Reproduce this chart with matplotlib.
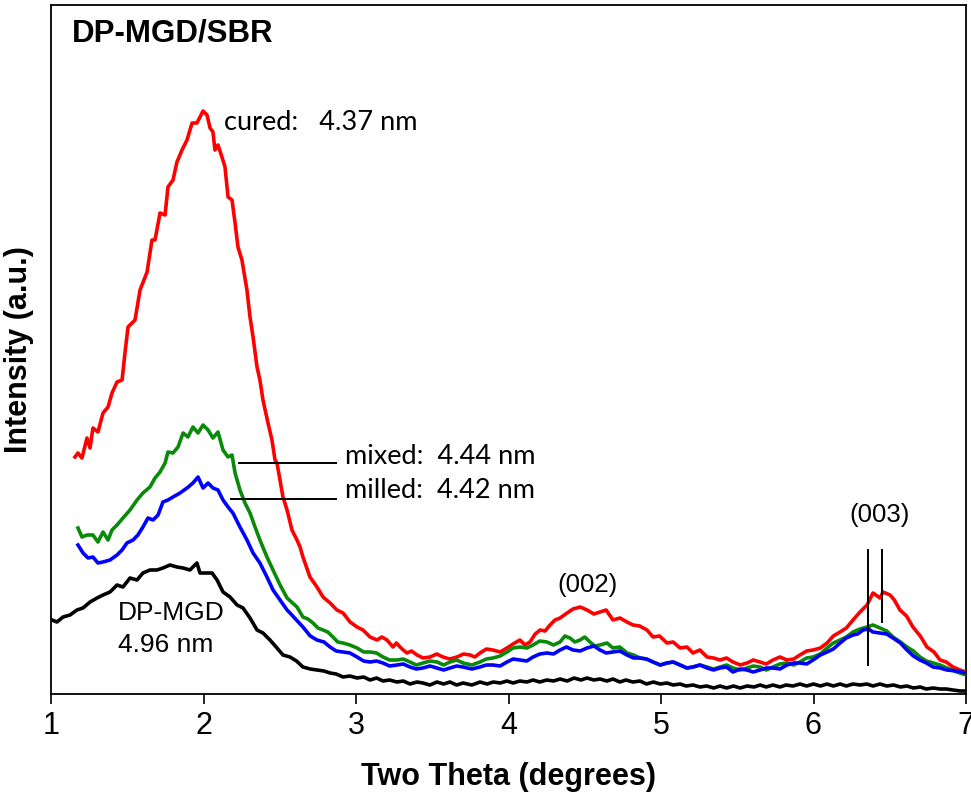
import matplotlib
matplotlib.use("Agg")
import matplotlib.pyplot as plt

# XRD patterns, intensity in arbitrary units
cured_2theta = [1.157, 1.177, 1.203, 1.236, 1.256, 1.275, 1.308, 1.341, 1.374, 1.400,
                1.433, 1.466, 1.485, 1.505, 1.551, 1.584, 1.630, 1.662, 1.682, 1.715,
                1.748, 1.767, 1.800, 1.826, 1.859, 1.892, 1.925, 1.957, 1.977, 1.997,
                2.023, 2.043, 2.062, 2.075, 2.095, 2.121, 2.141, 2.161, 2.187, 2.207,
                2.226, 2.252, 2.285, 2.305, 2.325, 2.351, 2.370, 2.390, 2.423, 2.449,
                2.469, 2.482, 2.521, 2.548, 2.580, 2.613, 2.633, 2.652, 2.698, 2.744,
                2.784, 2.830, 2.875, 2.915, 2.961, 3.007, 3.046, 3.092, 3.138, 3.203,
                3.243, 3.289, 3.334, 3.400, 3.485, 3.570, 3.662, 3.748, 3.813, 3.898,
                3.990, 4.075, 4.141, 4.207, 4.272, 4.338, 4.384, 4.423, 4.515, 4.600,
                4.685, 4.731, 4.777, 4.816, 4.908, 4.948, 5.039, 5.125, 5.210, 5.302,
                5.387, 5.472, 5.564, 5.649, 5.734, 5.826, 5.911, 5.997, 6.089, 6.174,
                6.259, 6.351, 6.390, 6.436, 6.456, 6.502, 6.567, 6.652, 6.744, 6.830,
                6.915, 7.000,
                # finer wiggles in the tail
                3.170, 3.265, 3.310, 3.365, 3.440, 3.530, 3.615, 3.705, 3.780, 3.855,
                3.945, 4.030, 4.108, 4.175, 4.240, 4.305, 4.470, 4.560, 4.640, 4.860,
                4.990, 5.080, 5.170, 5.255, 5.345, 5.430, 5.520, 5.605, 5.690, 5.780,
                5.870, 5.955, 6.045, 6.130, 6.215, 6.305, 6.530, 6.610, 6.700, 6.790,
                6.870, 6.960]
cured_int = [237, 241, 236, 256, 246, 266, 262, 281, 287, 301,
             312, 314, 341, 367, 374, 404, 422, 454, 454, 481,
             479, 507, 514, 532, 544, 554, 571, 571, 577, 583,
             579, 566, 562, 544, 549, 537, 527, 497, 494, 471,
             447, 434, 404, 377, 357, 327, 314, 294, 271, 254,
             234, 231, 197, 184, 164, 154, 147, 137, 117, 107,
             97, 91, 84, 81, 72, 67, 64, 57, 54, 54,
             47, 47, 41, 39, 37, 37, 37, 39, 41, 44,
             46, 54, 52, 64, 69, 76, 81, 85, 84, 82,
             74, 76, 72, 69, 64, 57, 51, 46, 41, 37,
             34, 32, 31, 32, 34, 34, 39, 44, 51, 62,
             74, 89, 101, 96, 102, 99, 84, 67, 47, 34,
             27, 22,
             57, 51, 44, 43, 36, 40, 35, 40, 37, 45,
             42, 50, 49, 60, 63, 74, 87, 80, 84, 68,
             58, 52, 47, 44, 36, 36, 29, 34, 30, 37,
             35, 43, 46, 58, 66, 82, 94, 78, 58, 42,
             32, 24]

mixed_2theta = [1.177, 1.203, 1.236, 1.275, 1.308, 1.341, 1.374, 1.400, 1.433, 1.472,
                1.518, 1.564, 1.603, 1.649, 1.682, 1.715, 1.748, 1.767, 1.800, 1.833,
                1.866, 1.898, 1.931, 1.964, 1.997, 2.030, 2.062, 2.095, 2.128, 2.161,
                2.187, 2.207, 2.239, 2.272, 2.305, 2.338, 2.370, 2.416, 2.456, 2.502,
                2.548, 2.613, 2.652, 2.718, 2.784, 2.849, 2.915, 3.007, 3.092, 3.177,
                3.269, 3.354, 3.439, 3.531, 3.616, 3.702, 3.813, 3.898, 3.990, 4.075,
                4.161, 4.252, 4.338, 4.403, 4.469, 4.534, 4.600, 4.646, 4.685, 4.777,
                4.862, 4.948, 5.039, 5.125, 5.210, 5.302, 5.387, 5.472, 5.564, 5.649,
                5.734, 5.826, 5.911, 5.997, 6.089, 6.174, 6.259, 6.351, 6.390, 6.436,
                6.521, 6.613, 6.698, 6.784, 6.875, 7.000,
                2.685, 2.750, 2.815, 2.880, 2.960, 3.050, 3.135, 3.220, 3.310, 3.395,
                3.485, 3.575, 3.660, 3.760, 3.855, 3.945, 4.030, 4.120, 4.205, 4.295,
                4.370, 4.435, 4.500, 4.565, 4.730, 4.820, 4.905, 4.995, 5.080, 5.170,
                5.255, 5.345, 5.430, 5.520, 5.605, 5.690, 5.780, 5.870, 5.955, 6.045,
                6.130, 6.215, 6.305, 6.480, 6.570, 6.655, 6.740, 6.830, 6.940]
mixed_int = [166, 157, 159, 159, 152, 162, 154, 164, 169, 176,
             184, 194, 201, 207, 216, 222, 231, 242, 241, 247,
             261, 257, 267, 261, 269, 264, 256, 262, 244, 237,
             239, 221, 204, 191, 181, 167, 154, 137, 124, 109,
             96, 87, 77, 71, 64, 57, 51, 46, 42, 37,
             34, 32, 31, 32, 32, 31, 32, 36, 42, 47,
             49, 52, 52, 56, 54, 52, 49, 51, 46, 41,
             36, 32, 31, 29, 27, 27, 27, 26, 26, 27,
             27, 31, 32, 37, 46, 54, 62, 67, 69, 66,
             57, 47, 37, 31, 26, 19,
             75, 66, 62, 52, 49, 42, 41, 34, 35, 29,
             33, 29, 34, 29, 35, 38, 46, 46, 53, 49,
             58, 52, 57, 48, 47, 39, 35, 29, 32, 26,
             29, 25, 29, 24, 28, 24, 30, 29, 36, 40,
             51, 57, 65, 63, 52, 43, 33, 29, 22]

milled_2theta = [1.177, 1.210, 1.243, 1.275, 1.308, 1.341, 1.387, 1.433, 1.466, 1.498,
                 1.538, 1.570, 1.603, 1.636, 1.669, 1.702, 1.734, 1.767, 1.800, 1.846,
                 1.892, 1.931, 1.964, 1.997, 2.030, 2.062, 2.095, 2.128, 2.161, 2.193,
                 2.239, 2.285, 2.325, 2.370, 2.416, 2.456, 2.502, 2.548, 2.567, 2.652,
                 2.744, 2.830, 2.915, 3.007, 3.092, 3.177, 3.269, 3.354, 3.439, 3.531,
                 3.616, 3.702, 3.813, 3.898, 3.990, 4.075, 4.161, 4.252, 4.338, 4.423,
                 4.515, 4.600, 4.685, 4.777, 4.862, 4.948, 5.039, 5.125, 5.210, 5.302,
                 5.387, 5.472, 5.564, 5.649, 5.734, 5.826, 5.911, 5.997, 6.089, 6.174,
                 6.259, 6.325, 6.390, 6.436, 6.521, 6.613, 6.698, 6.784, 6.875, 7.000,
                 2.700, 2.790, 2.870, 2.960, 3.050, 3.135, 3.220, 3.310, 3.395, 3.485,
                 3.575, 3.660, 3.760, 3.855, 3.945, 4.030, 4.120, 4.205, 4.295, 4.380,
                 4.470, 4.560, 4.640, 4.730, 4.820, 4.905, 4.995, 5.080, 5.170, 5.255,
                 5.345, 5.430, 5.520, 5.605, 5.690, 5.780, 5.870, 5.955, 6.045, 6.130,
                 6.215, 6.290, 6.360, 6.480, 6.570, 6.655, 6.740, 6.830, 6.940]
milled_int = [149, 141, 136, 137, 131, 132, 134, 139, 144, 151,
              154, 159, 167, 176, 174, 179, 192, 194, 197, 201,
              206, 211, 217, 206, 211, 206, 204, 194, 187, 181,
              167, 154, 141, 131, 117, 104, 94, 84, 81, 67,
              54, 47, 42, 37, 32, 31, 29, 27, 26, 26,
              26, 27, 27, 29, 32, 34, 37, 41, 44, 44,
              46, 44, 42, 39, 36, 32, 31, 29, 27, 26,
              26, 22, 24, 24, 26, 29, 31, 34, 42, 51,
              59, 64, 62, 61, 56, 44, 34, 27, 24, 21,
              58, 52, 43, 41, 33, 33, 28, 30, 25, 28,
              24, 28, 25, 29, 28, 35, 33, 40, 40, 47,
              43, 48, 41, 43, 36, 35, 29, 32, 26, 29,
              24, 27, 25, 22, 26, 25, 31, 30, 39, 45,
              56, 60, 65, 60, 51, 38, 31, 26, 23]

dpmgd_2theta = [1.007, 1.039, 1.079, 1.125, 1.170, 1.210, 1.256, 1.302, 1.341, 1.387,
                1.433, 1.472, 1.518, 1.564, 1.603, 1.649, 1.695, 1.734, 1.780, 1.826,
                1.866, 1.911, 1.957, 1.977, 2.023, 2.056, 2.089, 2.128, 2.174, 2.220,
                2.259, 2.305, 2.351, 2.390, 2.436, 2.482, 2.521, 2.567, 2.610, 2.652,
                2.700, 2.744, 2.790, 2.830, 2.870, 2.915, 2.960, 3.007, 3.050, 3.092,
                3.135, 3.177, 3.220, 3.269, 3.310, 3.354, 3.400, 3.439, 3.485, 3.531,
                3.575, 3.616, 3.660, 3.702, 3.760, 3.813, 3.860, 3.900, 3.945, 3.990,
                4.030, 4.075, 4.120, 4.161, 4.205, 4.250, 4.295, 4.338, 4.385, 4.430,
                4.475, 4.515, 4.560, 4.600, 4.645, 4.685, 4.730, 4.770, 4.815, 4.862,
                4.905, 4.950, 4.995, 5.039, 5.080, 5.125, 5.165, 5.210, 5.255, 5.300,
                5.345, 5.387, 5.430, 5.475, 5.520, 5.564, 5.610, 5.650, 5.690, 5.734,
                5.780, 5.820, 5.865, 5.911, 5.955, 6.000, 6.045, 6.089, 6.130, 6.175,
                6.215, 6.259, 6.305, 6.350, 6.390, 6.436, 6.480, 6.525, 6.570, 6.613,
                6.655, 6.700, 6.740, 6.784, 6.830, 6.870, 6.915, 6.961, 7.000]
dpmgd_int = [74, 72, 77, 79, 84, 86, 92, 96, 99, 102,
             109, 107, 116, 114, 121, 124, 124, 126, 129, 127,
             126, 124, 131, 121, 121, 121, 114, 102, 97, 89,
             86, 76, 64, 61, 54, 46, 39, 37, 33, 27,
             25, 24, 23, 21, 20, 17, 18, 16, 17, 14,
             16, 13, 14, 12, 13, 10, 12, 11, 9, 12,
             10, 12, 9, 11, 9, 12, 10, 12, 11, 13,
             11, 13, 12, 14, 12, 14, 13, 15, 13, 16,
             14, 16, 14, 15, 13, 15, 12, 14, 12, 13,
             10, 12, 10, 11, 9, 10, 8, 9, 7, 8,
             6, 8, 6, 8, 6, 8, 7, 9, 7, 9,
             7, 9, 8, 10, 8, 10, 8, 10, 8, 10,
             8, 10, 9, 10, 8, 10, 8, 9, 7, 8,
             6, 7, 5, 6, 5, 5, 4, 3, 3]

xticks = [1, 2, 3, 4, 5, 6, 7]


def ordered(xs, ys):
    pairs = sorted(zip(xs, ys))
    return [p[0] for p in pairs], [p[1] for p in pairs]


fig = plt.figure(figsize=(9.71, 7.95), dpi=100)
ax = fig.add_axes([51 / 971, 101 / 795, 915 / 971, 689 / 795])

lw = 2.6
ax.plot(*ordered(dpmgd_2theta, dpmgd_int), color="black", lw=lw, zorder=2)
ax.plot(*ordered(cured_2theta, cured_int), color="#ff0000", lw=lw, zorder=3)
ax.plot(*ordered(mixed_2theta, mixed_int), color="#0a8a0a", lw=lw, zorder=4)
ax.plot(*ordered(milled_2theta, milled_int), color="#0000ff", lw=lw, zorder=5)

ax.set_xlim(1, 7)
ax.set_ylim(0, 689)
ax.set_xticks(xticks)
ax.set_yticks([])
ax.tick_params(axis="x", direction="out", length=7, width=1.2, pad=5,
               labelsize=22)
for lab in ax.get_xticklabels():
    lab.set_fontfamily("Liberation Sans")
for sp in ax.spines.values():
    sp.set_linewidth(1.3)

ax.set_xlabel("Two Theta (degrees)", fontsize=22, fontweight="bold",
              family="Liberation Sans", labelpad=15)
ax.set_ylabel("Intensity (a.u.)", fontsize=22, fontweight="bold",
              family="Liberation Sans", labelpad=12)

ax.text(1.138, 660, "DP-MGD/SBR", fontsize=22.5, fontweight="bold",
        family="Liberation Sans", va="center", ha="left")

calib = "Lato"
ax.text(2.134, 572, "cured:   4.37 nm", fontsize=19.5, family=calib,
        va="center", ha="left")
ax.text(2.928, 237, "mixed:  4.44 nm", fontsize=19.5, family=calib,
        va="center", ha="left")
ax.text(2.928, 204, "milled:  4.42 nm", fontsize=19.5, family=calib,
        va="center", ha="left")
ax.plot([2.233, 2.869], [231, 231], color="black", lw=1.4, zorder=6)
ax.plot([2.180, 2.869], [195, 195], color="black", lw=1.4, zorder=6)

ax.text(1.439, 81, "DP-MGD", fontsize=19, family="Liberation Sans",
        va="center", ha="left", zorder=6)
ax.text(1.439, 49, "4.96 nm", fontsize=19, family="Liberation Sans",
        va="center", ha="left", zorder=6)

ax.text(4.521, 109, "(002)", fontsize=18.5, family="Liberation Sans",
        va="center", ha="center")
ax.text(6.436, 179, "(003)", fontsize=18.5, family="Liberation Sans",
        va="center", ha="center")
ax.plot([6.357, 6.357], [144, 29], color="black", lw=1.4, zorder=6)
ax.plot([6.449, 6.449], [144, 72], color="black", lw=1.4, zorder=6)

fig.savefig("out.png", dpi=100)
